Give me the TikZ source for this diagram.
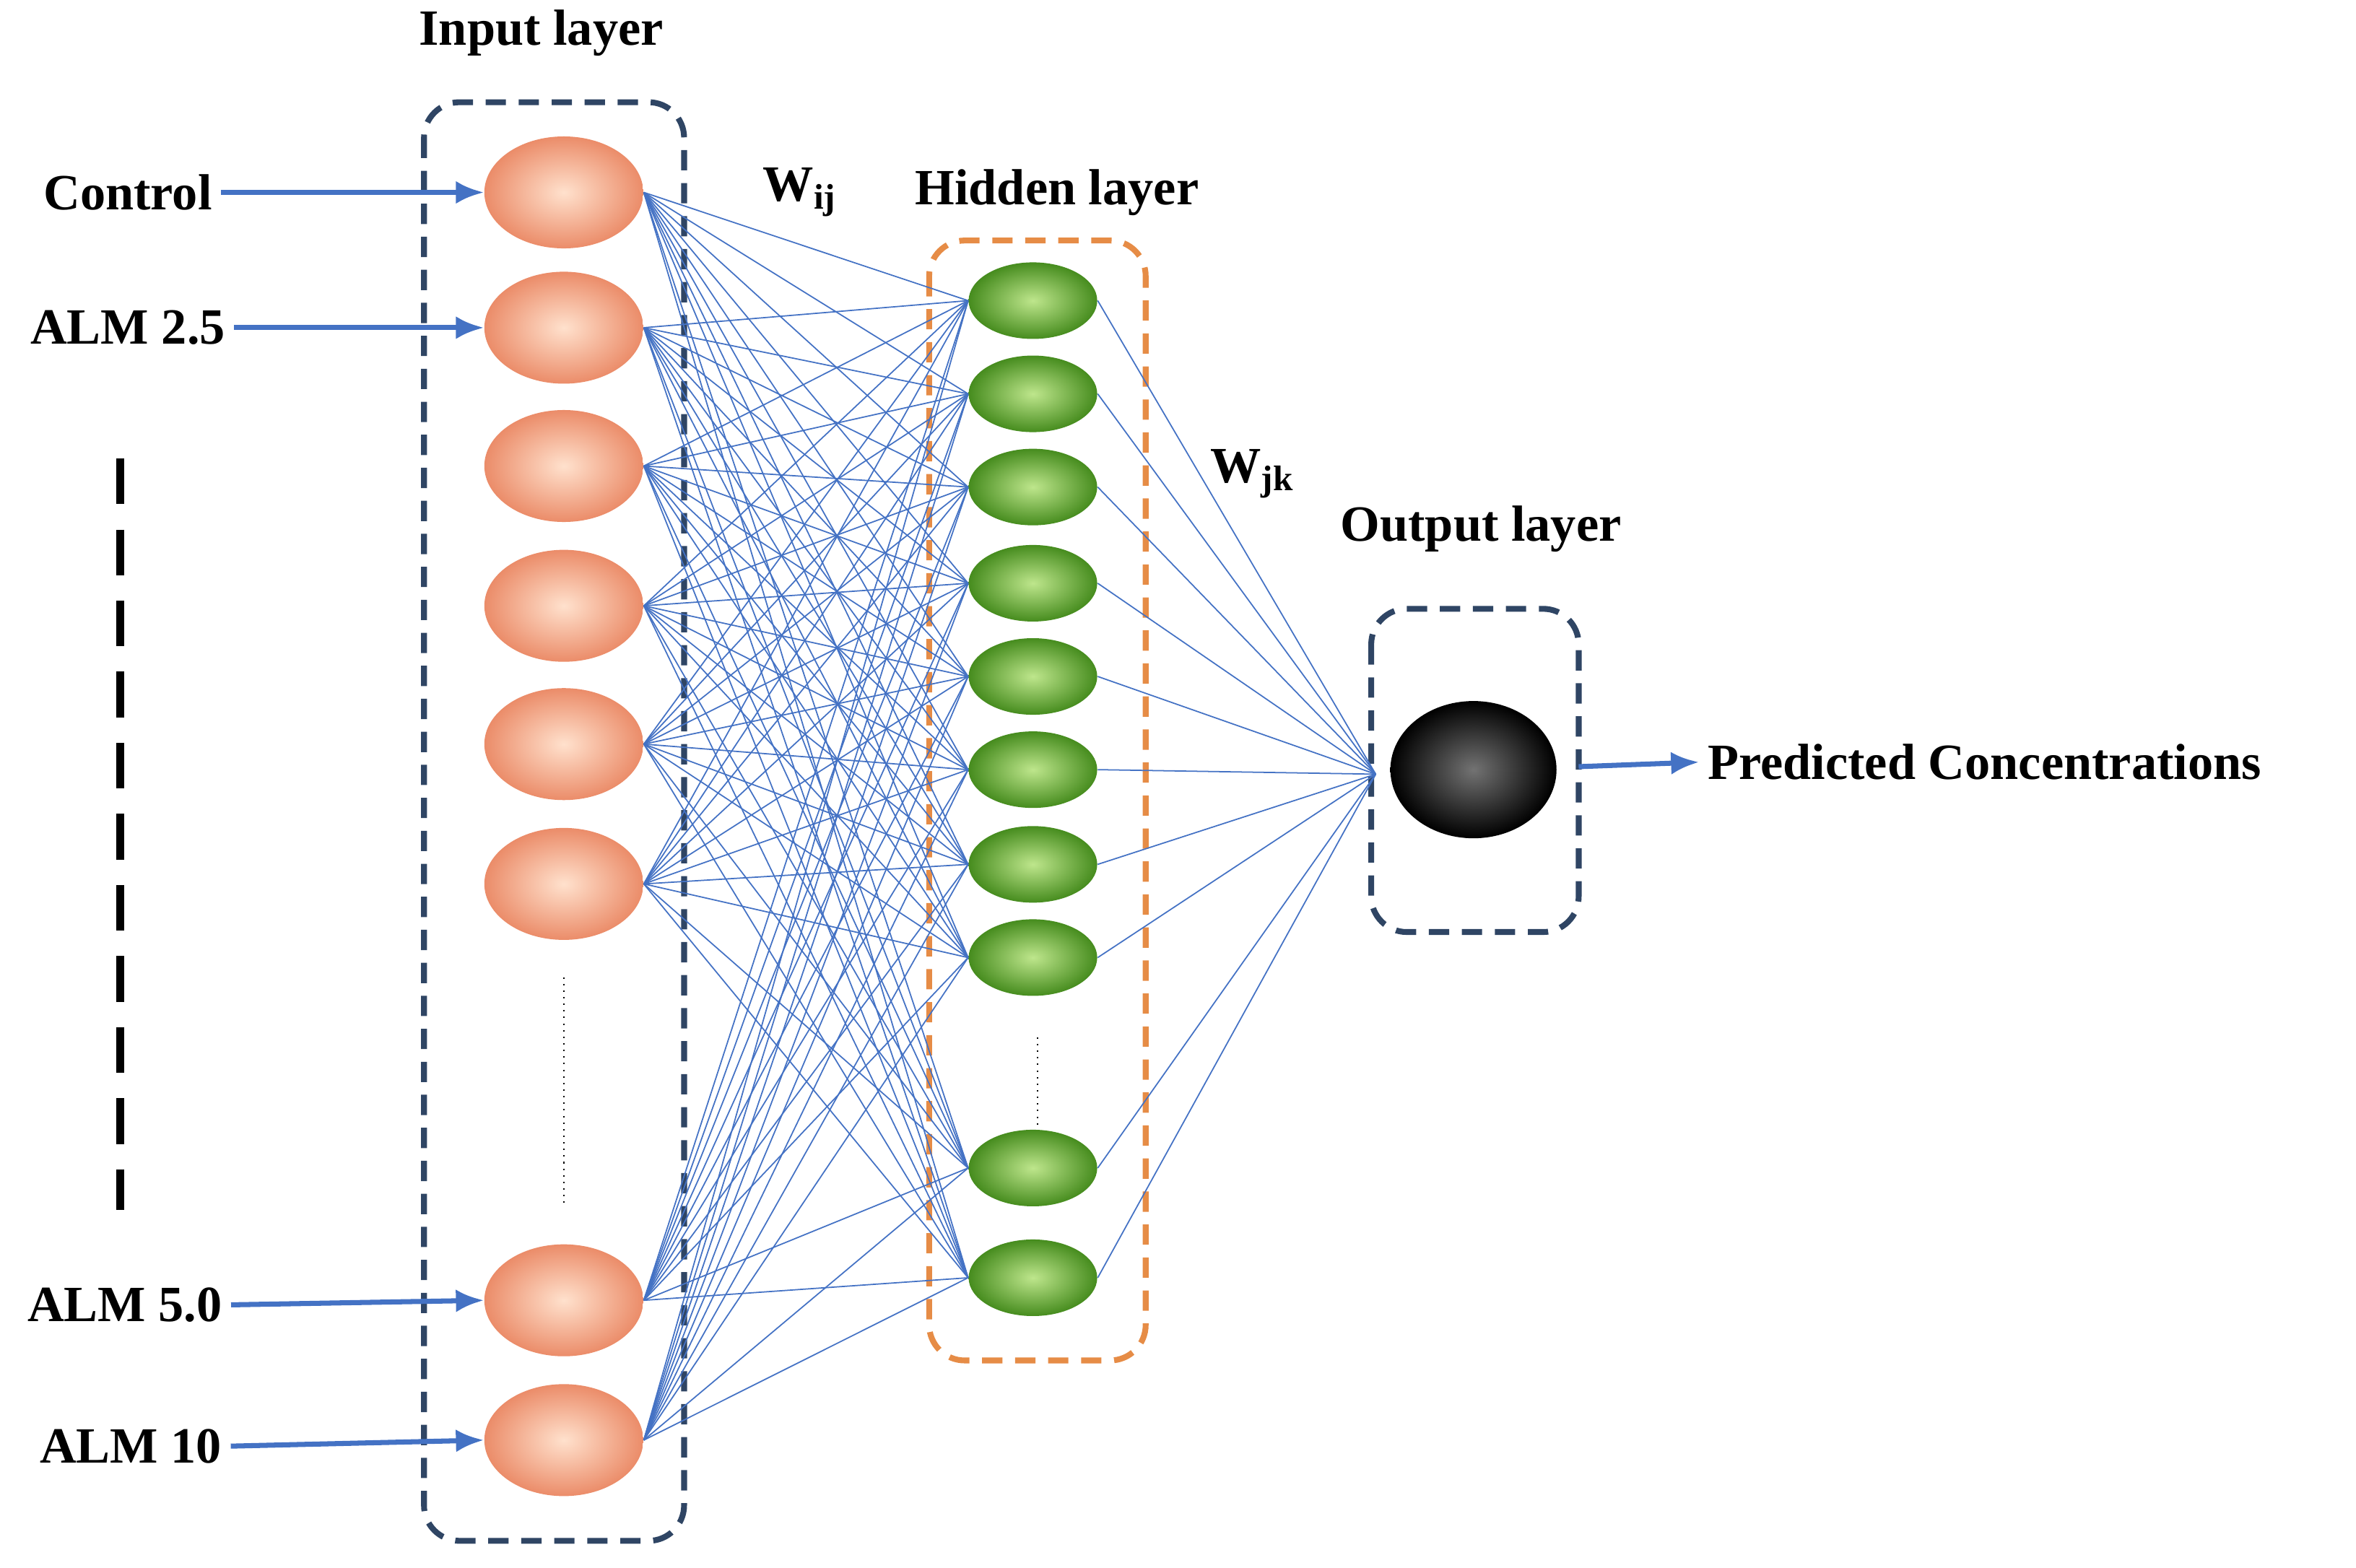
\documentclass[tikz,border=0pt]{standalone}
\usepackage{fontspec}
\setmainfont{Liberation Serif}
\usetikzlibrary{shapes.geometric,arrows.meta}
\begin{document}
\begin{tikzpicture}[x=0.02082cm,y=-0.02082cm,
  lab/.style={font=\fontsize{20}{22}\selectfont\bfseries},
  inn/.style={ellipse,minimum width=2.2cm,minimum height=1.55cm,inner sep=0,inner color={rgb,255:red,255;green,225;blue,205},outer color={rgb,255:red,235;green,140;blue,105}},
  hid/.style={ellipse,minimum width=1.78cm,minimum height=1.06cm,inner sep=0,inner color={rgb,255:red,190;green,230;blue,140},outer color={rgb,255:red,70;green,140;blue,30}},
  con/.style={draw={rgb,255:red,68;green,114;blue,196},line width=0.5pt},
  arr/.style={draw={rgb,255:red,68;green,114;blue,196},line width=2pt,-{Latex[length=11pt,width=9pt]}},
  box/.style={draw={rgb,255:red,47;green,69;blue,100},line width=2.3pt,dash pattern=on 8pt off 5pt,rounded corners=14pt}]
\useasboundingbox (0,0) rectangle (1567,1043);
\draw[box] (282,68) rectangle (455,1025);
\draw[box,draw={rgb,255:red,230;green,140;blue,70}] (618,160) rectangle (762,905);
\draw[box] (912,405) rectangle (1050,620);
\foreach \i/\y in {1/128,2/218,3/310,4/403,5/495,6/588,7/865,8/958}
  \node[inn] (i\i) at (375,\y) {};
\foreach \j/\y in {1/200,2/262,3/324,4/388,5/450,6/512,7/575,8/637,9/777,10/850}
  \node[hid] (h\j) at (687,\y) {};
\node[ellipse,minimum width=2.3cm,minimum height=1.9cm,inner sep=0,inner color=black!55,outer color=black] (o) at (980,512) {};
\coordinate (oc) at (915,515);
\foreach \i in {1,...,8}\foreach \j in {1,...,10}
  \draw[con] (i\i.east) -- (h\j.west);
\foreach \j in {1,...,10} \draw[con] (h\j.east) -- (oc);
\draw[dotted,line width=0.6pt] (375,650) -- (375,800);
\draw[dotted,line width=0.6pt] (690,690) -- (690,748);
\draw[line width=3pt,dash pattern=on 18pt off 10pt] (80,305) -- (80,805);
\node[lab] (t1) at (85,128) {Control};
\node[lab] (t2) at (85,218) {ALM 2.5};
\node[lab] (t3) at (83,868) {ALM 5.0};
\node[lab] (t4) at (87,962) {ALM 10};
\draw[arr] (t1.east) -- (i1.west);
\draw[arr] (t2.east) -- (i2.west);
\draw[arr] (t3.east) -- (i7.west);
\draw[arr] (t4.east) -- (i8.west);
\node[lab] at (360,22) {Input layer};
\node[lab] at (703,128) {Hidden layer};
\node[lab] at (985,352) {Output layer};
\node[lab] at (532,128) {W\textsubscript{ij}};
\node[lab] at (833,315) {W\textsubscript{jk}};
\node[lab,anchor=west] (p) at (1130,507) {Predicted Concentrations};
\coordinate (ob) at (1050,510);
\draw[arr] (ob) -- (p.west);
\end{tikzpicture}
\end{document}
